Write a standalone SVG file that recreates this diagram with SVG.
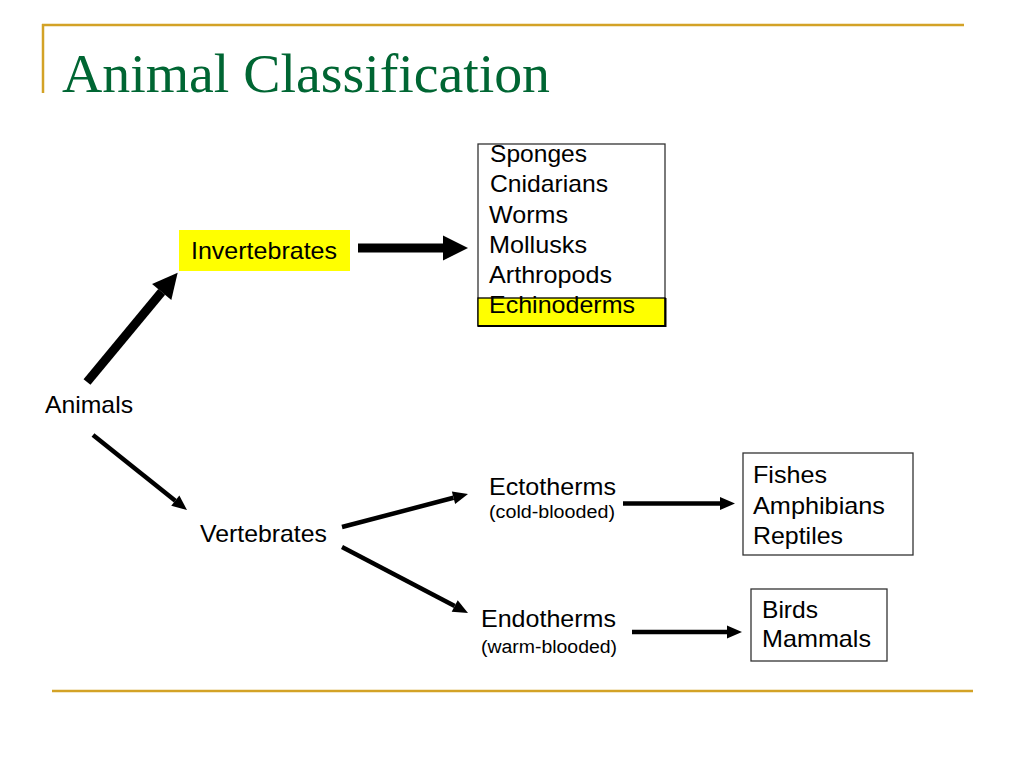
<svg xmlns="http://www.w3.org/2000/svg" width="1024" height="768" viewBox="0 0 1024 768">
<defs>
<style>
.t{font-family:"Liberation Sans",Arial,sans-serif;font-size:24px;fill:#000}
.s{font-family:"Liberation Sans",Arial,sans-serif;font-size:18px;fill:#000}
.title{font-family:"Liberation Serif","Times New Roman",serif;font-size:55px;fill:#006633}
.gold{stroke:#D3A226;stroke-width:2.5;fill:none}
.box{fill:#fff;stroke:#333;stroke-width:1.3}
.thick{stroke:#000;stroke-width:9;fill:none}
.thin{stroke:#000;stroke-width:4.5;fill:none}
</style>
<marker id="bigHead" markerUnits="userSpaceOnUse" markerWidth="25" markerHeight="25" refX="0" refY="12.5" orient="auto" overflow="visible">
<path d="M0,0 L25,12.5 L0,25 z" fill="#000"/>
</marker>
<marker id="smallHead" markerUnits="userSpaceOnUse" markerWidth="15" markerHeight="13" refX="0" refY="6.5" orient="auto" overflow="visible">
<path d="M0,0 L15,6.5 L0,13 z" fill="#000"/>
</marker>
</defs>
<rect width="1024" height="768" fill="#fff"/>
<g id="frame">
<line class="gold" x1="42" y1="25" x2="964" y2="25"/>
<line class="gold" x1="43" y1="24" x2="43" y2="93"/>
<line class="gold" x1="52" y1="691" x2="973" y2="691"/>
</g>
<g id="title">
<text class="title" x="62" y="92" textLength="488" lengthAdjust="spacingAndGlyphs">Animal Classification</text>
</g>
<g id="connectors">
<line class="thick" x1="87" y1="382" x2="161.7" y2="291.9" marker-end="url(#bigHead)"/>
<line class="thick" x1="358" y1="248" x2="443" y2="248" marker-end="url(#bigHead)"/>
<line class="thin" x1="93" y1="435" x2="175.3" y2="500.7" marker-end="url(#smallHead)"/>
<line class="thin" x1="342" y1="527" x2="453.5" y2="497.8" marker-end="url(#smallHead)"/>
<line class="thin" x1="342" y1="547" x2="454.7" y2="606" marker-end="url(#smallHead)"/>
<line class="thin" x1="623" y1="503.5" x2="720" y2="503.5" marker-end="url(#smallHead)"/>
<line class="thin" x1="632" y1="632" x2="727" y2="632" marker-end="url(#smallHead)"/>
</g>
<g id="animals">
<text class="t" x="45" y="413" textLength="88" lengthAdjust="spacingAndGlyphs">Animals</text>
</g>
<g id="invertebrates">
<rect x="179" y="230" width="171" height="41" fill="#FFFF00"/>
<text class="t" x="191" y="259" textLength="146" lengthAdjust="spacingAndGlyphs">Invertebrates</text>
</g>
<g id="invertebrate-groups">
<rect class="box" x="478" y="144" width="187" height="182"/>
<rect x="478" y="298" width="187" height="28" fill="#FFFF00" stroke="#000" stroke-width="1.3"/>
<line x1="478" y1="326" x2="666" y2="326" stroke="#000" stroke-width="2"/>
<line x1="665.5" y1="298" x2="665.5" y2="327" stroke="#000" stroke-width="2"/>
<text class="t" x="490" y="162" textLength="97" lengthAdjust="spacingAndGlyphs">Sponges</text>
<text class="t" x="490" y="192" textLength="118" lengthAdjust="spacingAndGlyphs">Cnidarians</text>
<text class="t" x="489" y="223" textLength="79" lengthAdjust="spacingAndGlyphs">Worms</text>
<text class="t" x="489" y="253" textLength="98" lengthAdjust="spacingAndGlyphs">Mollusks</text>
<text class="t" x="489" y="283" textLength="123" lengthAdjust="spacingAndGlyphs">Arthropods</text>
<text class="t" x="489" y="313" textLength="146" lengthAdjust="spacingAndGlyphs">Echinoderms</text>
</g>
<g id="vertebrates">
<text class="t" x="200" y="542" textLength="127" lengthAdjust="spacingAndGlyphs">Vertebrates</text>
</g>
<g id="ectotherms">
<text class="t" x="489" y="495" textLength="127" lengthAdjust="spacingAndGlyphs">Ectotherms</text>
<text class="s" x="489" y="518" textLength="126" lengthAdjust="spacingAndGlyphs">(cold-blooded)</text>
</g>
<g id="endotherms">
<text class="t" x="481" y="627" textLength="135" lengthAdjust="spacingAndGlyphs">Endotherms</text>
<text class="s" x="481" y="653" textLength="136" lengthAdjust="spacingAndGlyphs">(warm-blooded)</text>
</g>
<g id="ectotherm-groups">
<rect class="box" x="743" y="453" width="170" height="102"/>
<text class="t" x="753" y="483" textLength="74" lengthAdjust="spacingAndGlyphs">Fishes</text>
<text class="t" x="753" y="514" textLength="132" lengthAdjust="spacingAndGlyphs">Amphibians</text>
<text class="t" x="753" y="544" textLength="90" lengthAdjust="spacingAndGlyphs">Reptiles</text>
</g>
<g id="endotherm-groups">
<rect class="box" x="751" y="589" width="136" height="72"/>
<text class="t" x="762" y="618" textLength="56" lengthAdjust="spacingAndGlyphs">Birds</text>
<text class="t" x="762" y="647" textLength="109" lengthAdjust="spacingAndGlyphs">Mammals</text>
</g>
</svg>
